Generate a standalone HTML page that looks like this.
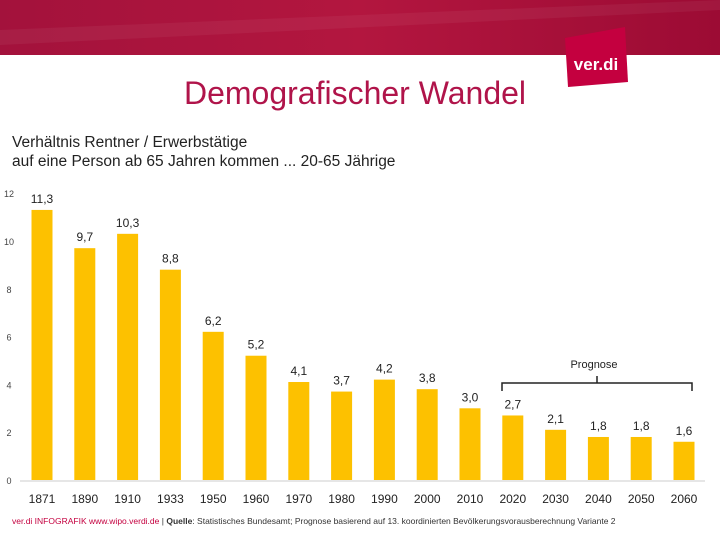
<!DOCTYPE html>
<html><head><meta charset="utf-8"><style>
body{margin:0;width:720px;height:540px;background:#fff;overflow:hidden;font-family:"Liberation Sans",sans-serif;}
</style></head><body>
<svg width="720" height="540" style="position:absolute;left:0;top:0">
<defs><linearGradient id="bg" x1="0" y1="0" x2="1" y2="0"><stop offset="0" stop-color="#a3123c"/><stop offset="0.5" stop-color="#b3163f"/><stop offset="1" stop-color="#9c0b34"/></linearGradient></defs>
<rect x="0" y="0" width="720" height="55" fill="url(#bg)"/>
<polygon points="0,30 720,0 720,10 0,45" fill="#fff" opacity="0.05"/>
<polygon points="565,38 625,27 628,82 568,87" fill="#c4003f"/>
<text x="596" y="70" font-size="17" font-weight="bold" fill="#fff" text-anchor="middle">ver.di</text>
<text x="355" y="104" font-size="32" fill="#b0144a" text-anchor="middle">Demografischer Wandel</text>
<text x="12" y="147" font-size="15.5" fill="#222">Verhältnis Rentner / Erwerbstätige</text>
<text x="12" y="166" font-size="15.5" fill="#222">auf eine Person ab 65 Jahren kommen ... 20-65 Jährige</text>
<g id="plot"></g>
<path d="M502,391 V383 H692 V391 M597,383 V376" stroke="#222" stroke-width="1.5" fill="none"/>
<text x="594" y="368" font-size="11" fill="#222" text-anchor="middle">Prognose</text>
<text x="12" y="524" font-size="8.5" fill="#333"><tspan fill="#c4003f">ver.di INFOGRAFIK www.wipo.verdi.de</tspan> | <tspan font-weight="bold">Quelle</tspan>: Statistisches Bundesamt; Prognose basierend auf 13. koordinierten Bevölkerungsvorausberechnung Variante 2</text>
</svg>
<script>
const categories=["1871","1890","1910","1933","1950","1960","1970","1980","1990","2000","2010","2020","2030","2040","2050","2060"];
const values=[11.3,9.7,10.3,8.8,6.2,5.2,4.1,3.7,4.2,3.8,3.0,2.7,2.1,1.8,1.8,1.6];
const valueLabels=["11,3","9,7","10,3","8,8","6,2","5,2","4,1","3,7","4,2","3,8","3,0","2,7","2,1","1,8","1,8","1,6"];
const yTicks=[0,2,4,6,8,10,12];
const NS="http://www.w3.org/2000/svg";
const g=document.getElementById('plot');
const y=v=>480-v*23.9;
const x=i=>42+i*42.8;
function mk(t,a){const e=document.createElementNS(NS,t);for(const k in a)e.setAttribute(k,a[k]);g.appendChild(e);return e;}
yTicks.forEach(t=>{const e=mk('text',{x:9,y:y(t)+4,'font-size':9,fill:'#444','text-anchor':'middle'});e.textContent=t;

});
const ax=mk('line',{x1:20,x2:705,y1:481,y2:481,stroke:'#ccc','stroke-width':1});


categories.forEach((c,i)=>{
const b=mk('rect',{x:x(i)-10.5,y:y(values[i]),width:21,height:480-y(values[i]),fill:'#fdc100'});


const l=mk('text',{x:x(i),y:y(values[i])-7,'font-size':12,fill:'#222','text-anchor':'middle'});l.textContent=valueLabels[i];


const t=mk('text',{x:x(i),y:503,'font-size':12,fill:'#222','text-anchor':'middle'});t.textContent=c;


});
</script>
</body></html>
